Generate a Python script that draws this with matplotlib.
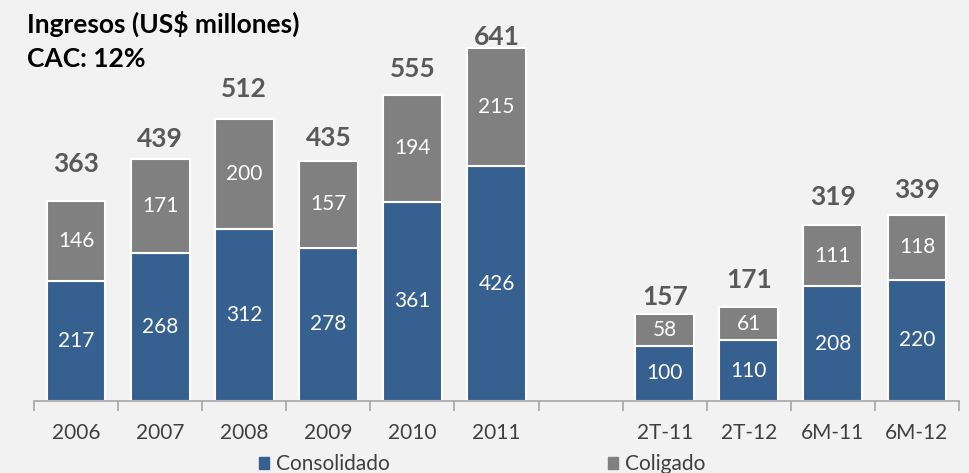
import numpy as np
import matplotlib.pyplot as plt
from matplotlib.patches import Patch

plt.rcParams['font.family'] = ['Lato', 'DejaVu Sans']

# data
categories = ['2006', '2007', '2008', '2009', '2010', '2011', '2T-11', '2T-12', '6M-11', '6M-12']
positions = [0, 1, 2, 3, 4, 5, 7, 8, 9, 10]   # slot 6 left empty as a gap
consolidado = [217, 268, 312, 278, 361, 426, 100, 110, 208, 220]
coligado = [146, 171, 200, 157, 194, 215, 58, 61, 111, 118]
totals = [363, 439, 512, 435, 555, 641, 157, 171, 319, 339]

# gap (px) between bar top and total label, placed by hand in the original
label_gap = [29, 12, 22, 15, 18, 3, 9, 19, 20, 17]

blue = '#36608F'
gray = '#808080'
bg = '#F2F2F2'

fig = plt.figure(figsize=(9.7, 4.73), dpi=100)
fig.patch.set_facecolor(bg)
ax = fig.add_axes([34 / 970, 72 / 473, 925 / 970, 386 / 473])
ax.set_facecolor(bg)

ax.bar(positions, consolidado, width=0.7, color=blue, edgecolor='white', linewidth=1.5)
ax.bar(positions, coligado, width=0.7, bottom=consolidado, color=gray,
       edgecolor='white', linewidth=1.5)

for x, c, g, t, gap in zip(positions, consolidado, coligado, totals, label_gap):
    ax.text(x, c / 2, str(c), ha='center', va='center', color='white', fontsize=15)
    ax.text(x, c + g / 2, str(g), ha='center', va='center', color='white', fontsize=15)
    ax.annotate(str(t), (x, c + g), xytext=(0, gap * 0.72), textcoords='offset points',
                ha='center', va='baseline', color='#595959', fontsize=19,
                fontweight='bold')

ax.set_xlim(-0.5, 10.5)
ax.set_ylim(0, 700)
ax.set_yticks([])
for s in ['top', 'right', 'left']:
    ax.spines[s].set_visible(False)
ax.spines['bottom'].set_color('#A6A6A6')
ax.spines['bottom'].set_linewidth(1.2)

ax.set_xticks(np.arange(-0.5, 11, 1))
ax.set_xticklabels([])
ax.tick_params(axis='x', which='major', length=7, color='#A6A6A6', width=1.2)
ax.set_xticks(positions, minor=True)
ax.set_xticklabels(categories, minor=True)
ax.tick_params(axis='x', which='minor', length=0, pad=16, labelsize=15, labelcolor='#404040')

fig.text(27 / 970, 1 - 33 / 473, 'Ingresos (US$ millones)', fontsize=19,
         fontweight='bold', color='black', va='baseline')
fig.text(27 / 970, 1 - 67 / 473, 'CAC: 12%', fontsize=19,
         fontweight='bold', color='black', va='baseline')

handles = [Patch(color=blue, label='Consolidado'), Patch(color=gray, label='Coligado')]
fig.legend(handles=handles, loc='center', bbox_to_anchor=(482 / 970, 1 - 464 / 473),
           ncol=2, frameon=False, fontsize=15, handlelength=0.5, handleheight=0.5,
           handletextpad=0.3, columnspacing=10.5, labelcolor='#404040')

fig.savefig('out.png', dpi=100, facecolor=bg)
